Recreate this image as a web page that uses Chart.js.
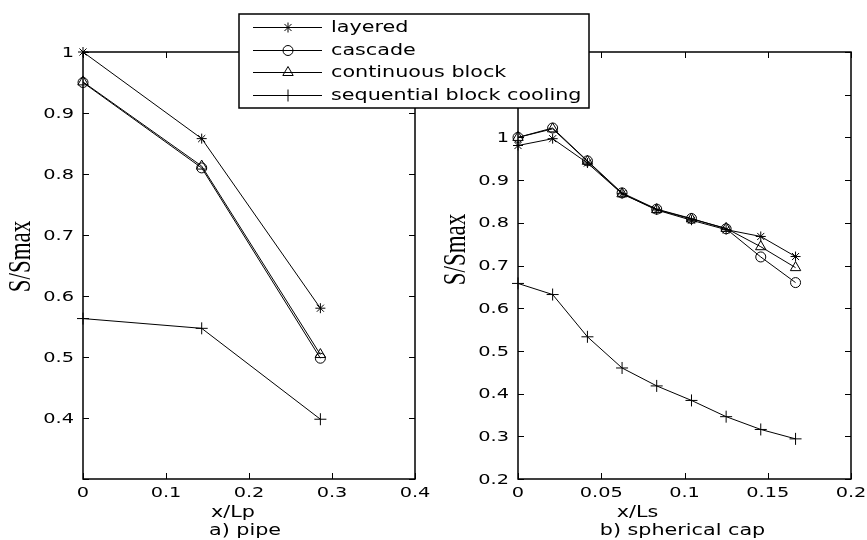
<!DOCTYPE html>
<html>
<head>
<meta charset="utf-8">
<script src="https://cdn.jsdelivr.net/npm/chart.js@4/dist/chart.umd.min.js"></script>
<style>
html, body { margin: 0; padding: 0; background: #fff; }
#wrap { position: relative; width: 867px; height: 540px; }
#wrap canvas { position: absolute; left: 0; top: 0; }
</style>
</head>
<body>
<div id="wrap">
  <canvas id="pipe" width="867" height="540"></canvas>
  <canvas id="cap" width="867" height="540"></canvas>
</div>
<script>
// ------------------------
// DATA
// ------------------------

const seriesNames = ['layered', 'cascade', 'continuous block', 'sequential block cooling'];
const yTitle = 'S/Smax';

// a) pipe
const pipeX = [0, 0.143, 0.286];
const pipeLayered = [1.0, 0.858, 0.58];
const pipeCascade = [0.95, 0.81, 0.498];
const pipeContinuous = [0.951, 0.813, 0.504];
const pipeSequential = [0.563, 0.547, 0.398];
const pipeXTicks = [0, 0.1, 0.2, 0.3, 0.4];
const pipeYTicks = [0.3, 0.4, 0.5, 0.6, 0.7, 0.8, 0.9, 1.0];
const pipeYHidden = [0.3];
const pipeCaptions = ['x/Lp', 'a) pipe'];

// b) spherical cap
const capX = [0, 0.0208, 0.0417, 0.0625, 0.0833, 0.1042, 0.125, 0.1458, 0.1667];
const capLayered = [0.981, 0.997, 0.94, 0.868, 0.83, 0.806, 0.784, 0.768, 0.721];
const capCascade = [1.0, 1.022, 0.945, 0.87, 0.832, 0.81, 0.786, 0.72, 0.66];
const capContinuous = [1.0, 1.02, 0.944, 0.868, 0.831, 0.809, 0.787, 0.744, 0.695];
const capSequential = [0.658, 0.632, 0.533, 0.46, 0.418, 0.384, 0.346, 0.316, 0.294];
const capXTicks = [0, 0.05, 0.1, 0.15, 0.2];
const capYTicks = [0.2, 0.3, 0.4, 0.5, 0.6, 0.7, 0.8, 0.9, 1.0, 1.1, 1.2];
const capYHidden = [];
const capCaptions = ['x/Ls', 'b) spherical cap'];

// ------------------------
// STYLE
// ------------------------

const markerStyles = ['star', 'circle', 'triangle', 'cross'];
const markerSizes = [5, 5, 6, 6];
const SX = 1.38; // the source figure is stretched sideways, so is its text
const tickFont = '14px "DejaVu Sans"';
const textFont = '15px "DejaVu Sans"';
const titleFont = '23px "Liberation Serif"';

function makeDatasets(xs, series) {
    return series.map((ys, i) => ({
        label: seriesNames[i],
        data: xs.map((x, j) => ({ x: x, y: ys[j] })),
        borderColor: '#000',
        borderWidth: 1,
        pointStyle: markerStyles[i],
        pointRadius: markerSizes[i],
        pointBorderColor: '#000',
        pointBackgroundColor: 'rgba(0,0,0,0)',
        pointBorderWidth: 1,
        tension: 0,
        clip: false
    }));
}

const fmt = v => (+(+v).toFixed(2)).toString();

function makeScales(xTicks, yTicks) {
    return {
        x: {
            type: 'linear',
            min: xTicks[0],
            max: xTicks[xTicks.length - 1],
            afterBuildTicks: s => { s.ticks = xTicks.map(v => ({ value: v })); },
            afterFit: s => { s.height = 61; },
            grid: { display: false, drawTicks: false },
            border: { display: false },
            ticks: { display: false }
        },
        y: {
            type: 'linear',
            min: yTicks[0],
            max: yTicks[yTicks.length - 1],
            afterBuildTicks: s => { s.ticks = yTicks.map(v => ({ value: v })); },
            afterFit: s => { s.width = 83; },
            grid: { display: false, drawTicks: false },
            border: { display: false },
            ticks: { display: false }
        }
    };
}

function stretchText(ctx, text, x, y, font, align, baseline, vertical) {
    ctx.save();
    ctx.translate(x, y);
    if (vertical) {
        ctx.rotate(-Math.PI / 2);
        ctx.scale(1, SX);
    } else {
        ctx.scale(SX, 1);
    }
    ctx.font = font;
    ctx.textAlign = align;
    ctx.textBaseline = baseline;
    ctx.fillStyle = '#000';
    ctx.fillText(text, 0, 0);
    ctx.restore();
}

// ------------------------
// PLUGINS
// ------------------------

// box round the plot, inward ticks on all four sides, tick labels, titles
const frame = {
    id: 'frame',
    afterDraw(chart, args, opts) {
        const { ctx, chartArea: a, scales } = chart;
        const len = 6;
        ctx.save();
        ctx.strokeStyle = '#000';
        ctx.lineWidth = 1.5;
        ctx.strokeRect(a.left, a.top, a.right - a.left, a.bottom - a.top);
        ctx.lineWidth = 1;
        ctx.beginPath();
        scales.x.ticks.forEach(t => {
            const px = Math.round(scales.x.getPixelForValue(t.value)) + 0.5;
            ctx.moveTo(px, a.bottom); ctx.lineTo(px, a.bottom - len);
            ctx.moveTo(px, a.top); ctx.lineTo(px, a.top + len);
        });
        scales.y.ticks.forEach(t => {
            const py = Math.round(scales.y.getPixelForValue(t.value)) + 0.5;
            ctx.moveTo(a.left, py); ctx.lineTo(a.left + len, py);
            ctx.moveTo(a.right, py); ctx.lineTo(a.right - len, py);
        });
        ctx.stroke();

        scales.x.ticks.forEach(t => {
            stretchText(ctx, fmt(t.value), scales.x.getPixelForValue(t.value), a.bottom + 14,
                tickFont, 'center', 'middle');
        });
        const hidden = opts.hidden || [];
        scales.y.ticks.forEach(t => {
            if (hidden.includes(+t.value.toFixed(2))) return;
            stretchText(ctx, fmt(t.value), a.left - 9, scales.y.getPixelForValue(t.value) + 1,
                tickFont, 'right', 'middle');
        });

        const cx = (a.left + a.right) / 2;
        const cy = (a.top + a.bottom) / 2;
        stretchText(ctx, yTitle, a.left - 61, cy + opts.titleDy, titleFont, 'center', 'middle', true);
        (opts.captions || []).forEach(c => {
            stretchText(ctx, c.text, cx + c.dx, a.bottom + c.dy, textFont, 'center', 'middle');
        });
        ctx.restore();
    }
};

// shared legend box, overlapping both panels
const legendBox = {
    id: 'legendBox',
    afterDraw(chart) {
        const ctx = chart.ctx;
        const box = { x: 239, y: 14, w: 350, h: 94 };
        ctx.save();
        ctx.fillStyle = '#fff';
        ctx.fillRect(box.x, box.y, box.w, box.h);
        ctx.strokeStyle = '#000';
        ctx.lineWidth = 1.5;
        ctx.strokeRect(box.x, box.y, box.w, box.h);
        seriesNames.forEach((name, i) => {
            const y = Math.round(box.y + 13 + i * 22.7) + 0.5;
            ctx.lineWidth = 1;
            ctx.strokeStyle = '#000';
            ctx.beginPath();
            ctx.moveTo(253, y); ctx.lineTo(322, y);
            ctx.stroke();
            ctx.fillStyle = 'rgba(0,0,0,0)';
            Chart.helpers.drawPoint(ctx, {
                pointStyle: markerStyles[i], radius: markerSizes[i], rotation: 0, borderWidth: 1
            }, 288, y);
            stretchText(ctx, name, 331, y + 1, textFont, 'left', 'middle');
        });
        ctx.restore();
    }
};

// ------------------------
// CHARTS
// ------------------------

function createChart(canvasId, config) {
    const canvas = document.getElementById(canvasId);
    return new Chart(canvas.getContext('2d'), config);
}

createChart('pipe', {
    type: 'line',
    data: { datasets: makeDatasets(pipeX, [pipeLayered, pipeCascade, pipeContinuous, pipeSequential]) },
    options: {
        responsive: false,
        animation: false,
        layout: { padding: { left: 0, right: 452, top: 52, bottom: 0 } },
        scales: makeScales(pipeXTicks, pipeYTicks),
        plugins: {
            legend: { display: false },
            tooltip: { enabled: false },
            frame: {
                hidden: pipeYHidden,
                titleDy: -9,
                captions: [
                    { text: pipeCaptions[0], dx: -16, dy: 34 },
                    { text: pipeCaptions[1], dx: -4, dy: 52 }
                ]
            }
        }
    },
    plugins: [frame]
});

createChart('cap', {
    type: 'line',
    data: { datasets: makeDatasets(capX, [capLayered, capCascade, capContinuous, capSequential]) },
    options: {
        responsive: false,
        animation: false,
        layout: { padding: { left: 435, right: 16, top: 52, bottom: 0 } },
        scales: makeScales(capXTicks, capYTicks),
        plugins: {
            legend: { display: false },
            tooltip: { enabled: false },
            frame: {
                hidden: capYHidden,
                titleDy: -16,
                captions: [
                    { text: capCaptions[0], dx: -47, dy: 34 },
                    { text: capCaptions[1], dx: -2, dy: 52 }
                ]
            }
        }
    },
    plugins: [frame, legendBox]
});
</script>
</body>
</html>
